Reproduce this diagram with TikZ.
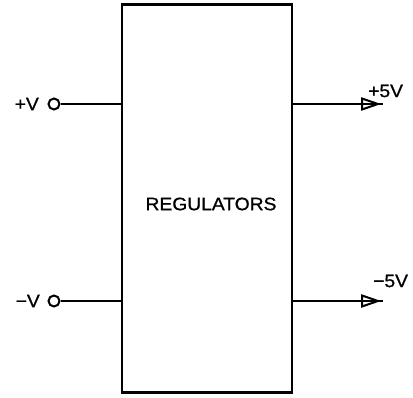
\documentclass[tikz,border=0pt]{standalone}
\usepackage{fontspec}
\setmainfont{Liberation Sans}
\newfontfamily\lblfont[FakeBold=0.8]{Liberation Sans}
\usetikzlibrary{calc}
\begin{document}
\begin{tikzpicture}[x=1pt,y=1pt,
  wire/.style={line width=2.3pt},
  lbl/.style={inner sep=0pt,font=\lblfont\fontsize{18}{18}\selectfont},
  term/.style={circle,draw,line width=2pt,minimum size=11pt,inner sep=0pt},
  tip/.style={line width=2pt,line join=miter}]
\useasboundingbox (0,0) rectangle (413,397);
\node[draw,wire,minimum width=170pt,minimum height=388pt,inner sep=0pt] (box) at (207,198.5) {};
\node[lbl] (reg) at (211,193) {\scalebox{1.07}[1]{REGULATORS}};
% inputs
\node[term] (pin) at (54,293) {};
\node[term] (nin) at (54,96) {};
\node[lbl,anchor=east] (pv) at (39,293) {\scalebox{1.07}[1]{+V}};
\node[lbl,anchor=east] (nv) at (40,96) {\scalebox{1.07}[1]{−V}};
\draw[wire] (pin.east) -- (pin.east -| box.west);
\draw[wire] (nin.east) -- (nin.east -| box.west);
% outputs
\coordinate (po) at (383,293);
\coordinate (no) at (383,96);
\draw[wire] (po -| box.east) -- (po);
\draw[wire] (no -| box.east) -- (no);
\draw[tip] ($(po)+(-21,5.5)$) -- ($(po)+(-5,0)$) -- ($(po)+(-21,-5.5)$) -- cycle;
\draw[tip] ($(no)+(-21,5.5)$) -- ($(no)+(-5,0)$) -- ($(no)+(-21,-5.5)$) -- cycle;
\node[lbl,anchor=west] (p5) at (368,306) {\scalebox{1.07}[1]{+5V}};
\node[lbl,anchor=west] (n5) at (373,116) {\scalebox{1.07}[1]{−5V}};
\end{tikzpicture}
\end{document}
